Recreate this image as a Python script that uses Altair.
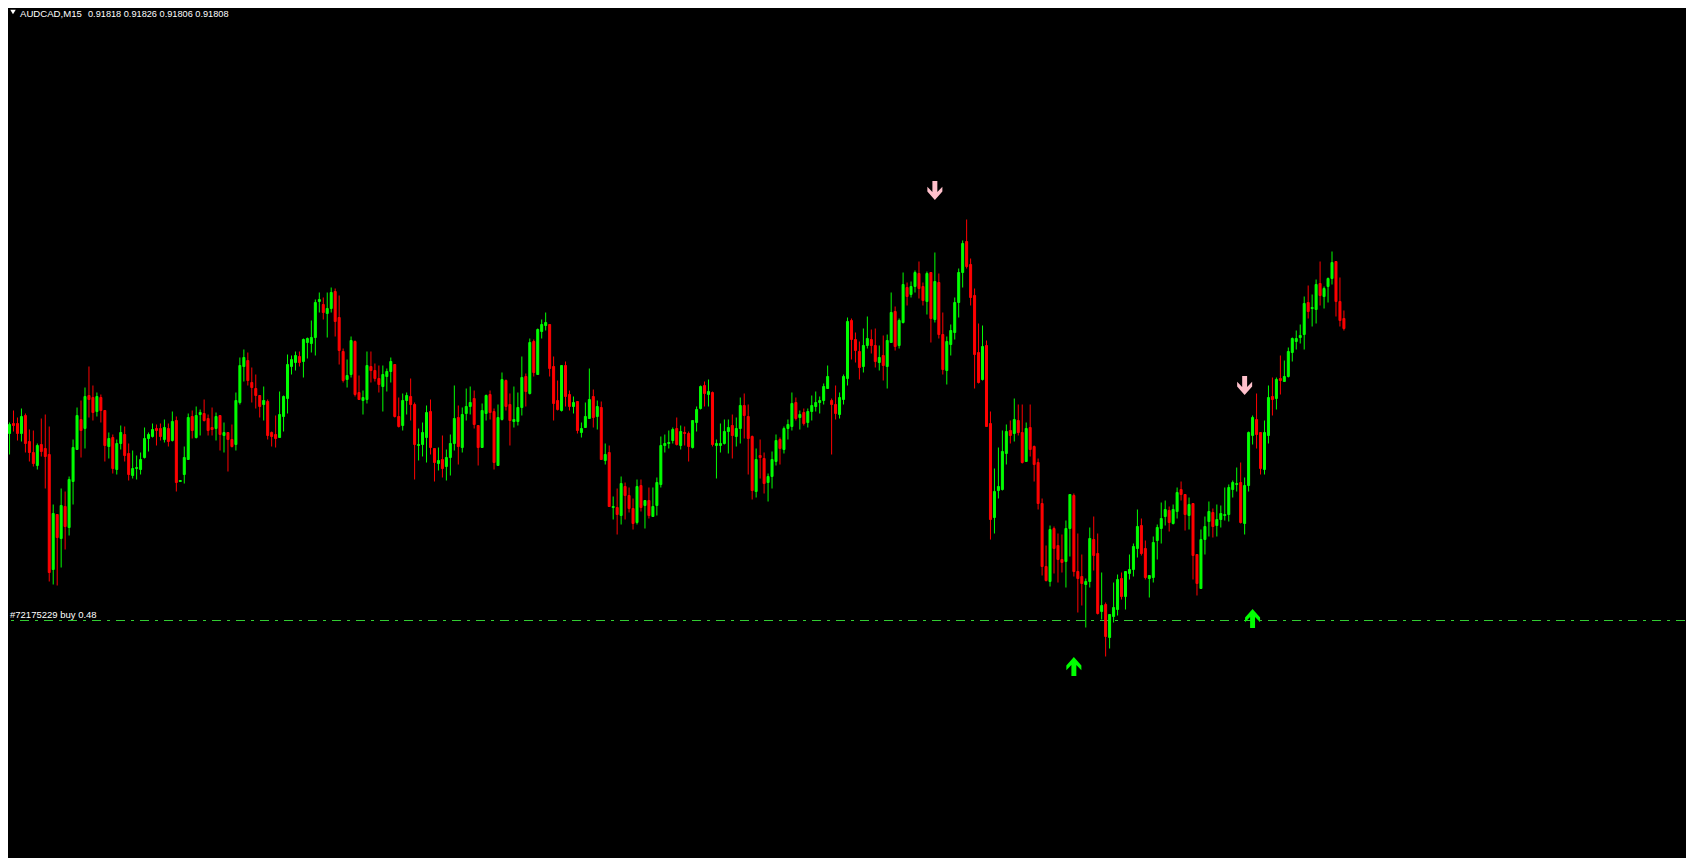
import altair as alt
import numpy as np
import pandas as pd

# ---------------- data (AUDCAD M15, prices) ----------------
OPEN = [
0.91703,0.91713,0.91713,0.91703,0.91721,0.91695,0.91684,0.91671,0.91692,0.91688,
0.91682,0.91567,0.91622,0.91598,0.91630,0.91609,0.91655,0.91687,0.91717,0.91708,
0.91741,0.91739,0.91725,0.91739,0.91726,0.91690,0.91699,0.91667,0.91693,0.91702,
0.91683,0.91661,0.91668,0.91667,0.91679,0.91698,0.91700,0.91708,0.91708,0.91697,
0.91708,0.91696,0.91716,0.91655,0.91662,0.91677,0.91720,0.91699,0.91722,0.91723,
0.91718,0.91709,0.91708,0.91721,0.91701,0.91704,0.91697,0.91692,0.91734,0.91770,
0.91776,0.91754,0.91748,0.91741,0.91732,0.91735,0.91704,0.91702,0.91699,0.91720,
0.91738,0.91770,0.91774,0.91780,0.91775,0.91794,0.91793,0.91799,0.91835,0.91832,
0.91823,0.91828,0.91845,0.91819,0.91785,0.91757,0.91762,0.91795,0.91744,0.91736,
0.91737,0.91770,0.91766,0.91758,0.91750,0.91760,0.91765,0.91772,0.91720,0.91711,
0.91736,0.91740,0.91732,0.91691,0.91692,0.91699,0.91725,0.91688,0.91673,0.91677,
0.91670,0.91679,0.91693,0.91719,0.91689,0.91723,0.91730,0.91738,0.91711,0.91689,
0.91723,0.91742,0.91725,0.91671,0.91717,0.91756,0.91732,0.91715,0.91715,0.91729,
0.91760,0.91743,0.91795,0.91762,0.91805,0.91811,0.91812,0.91770,0.91736,0.91726,
0.91771,0.91742,0.91730,0.91735,0.91704,0.91709,0.91718,0.91740,0.91720,0.91729,
0.91676,0.91684,0.91629,0.91629,0.91621,0.91650,0.91641,0.91628,0.91614,0.91651,
0.91631,0.91636,0.91620,0.91631,0.91652,0.91691,0.91693,0.91696,0.91708,0.91691,
0.91704,0.91703,0.91689,0.91714,0.91728,0.91751,0.91742,0.91744,0.91691,0.91691,
0.91693,0.91705,0.91711,0.91700,0.91708,0.91731,0.91720,0.91700,0.91645,0.91681,
0.91678,0.91654,0.91660,0.91675,0.91697,0.91687,0.91708,0.91710,0.91734,0.91719,
0.91724,0.91714,0.91725,0.91730,0.91734,0.91736,0.91748,0.91736,0.91732,0.91722,
0.91737,0.91758,0.91816,0.91797,0.91785,0.91770,0.91791,0.91797,0.91791,0.91774,
0.91781,0.91770,0.91794,0.91825,0.91791,0.91814,0.91849,0.91842,0.91850,0.91863,
0.91850,0.91835,0.91864,0.91817,0.91854,0.91802,0.91766,0.91792,0.91804,0.91834,
0.91864,0.91895,0.91872,0.91841,0.91784,0.91757,0.91791,0.91713,0.91619,0.91646,
0.91647,0.91683,0.91706,0.91703,0.91716,0.91704,0.91675,0.91709,0.91690,0.91674,
0.91633,0.91570,0.91555,0.91608,0.91591,0.91577,0.91575,0.91608,0.91641,0.91565,
0.91560,0.91552,0.91555,0.91597,0.91583,0.91525,0.91532,0.91499,0.91520,0.91527,
0.91558,0.91540,0.91563,0.91567,0.91588,0.91611,0.91588,0.91558,0.91559,0.91596,
0.91608,0.91620,0.91626,0.91613,0.91625,0.91647,0.91642,0.91621,0.91633,0.91582,
0.91548,0.91597,0.91615,0.91624,0.91611,0.91617,0.91621,0.91622,0.91647,0.91652,
0.91654,0.91613,0.91651,0.91701,0.91717,0.91704,0.91667,0.91701,0.91740,0.91738,
0.91758,0.91755,0.91760,0.91784,0.91795,0.91799,0.91802,0.91834,0.91828,0.91827,
0.91853,0.91840,0.91850,0.91858,0.91875,0.91835,0.91818]

HIGH = [
0.91714,0.91726,0.91719,0.91728,0.91723,0.91707,0.91706,0.91693,0.91718,0.91722,
0.91710,0.91632,0.91622,0.91648,0.91645,0.91660,0.91697,0.91729,0.91736,0.91749,
0.91770,0.91751,0.91744,0.91742,0.91726,0.91704,0.91702,0.91697,0.91711,0.91710,
0.91693,0.91686,0.91681,0.91684,0.91709,0.91704,0.91713,0.91712,0.91713,0.91717,
0.91713,0.91725,0.91720,0.91656,0.91690,0.91723,0.91726,0.91730,0.91727,0.91737,
0.91722,0.91729,0.91724,0.91721,0.91714,0.91704,0.91712,0.91744,0.91779,0.91787,
0.91784,0.91769,0.91762,0.91741,0.91750,0.91737,0.91705,0.91721,0.91745,0.91741,
0.91782,0.91781,0.91785,0.91785,0.91798,0.91799,0.91816,0.91837,0.91844,0.91839,
0.91844,0.91849,0.91848,0.91841,0.91788,0.91777,0.91800,0.91796,0.91761,0.91746,
0.91785,0.91785,0.91773,0.91771,0.91771,0.91768,0.91779,0.91772,0.91739,0.91743,
0.91744,0.91758,0.91734,0.91708,0.91714,0.91731,0.91737,0.91688,0.91689,0.91701,
0.91687,0.91702,0.91751,0.91731,0.91729,0.91748,0.91750,0.91746,0.91711,0.91733,
0.91742,0.91746,0.91728,0.91732,0.91764,0.91757,0.91743,0.91750,0.91744,0.91780,
0.91763,0.91798,0.91797,0.91808,0.91817,0.91824,0.91812,0.91780,0.91756,0.91771,
0.91775,0.91746,0.91740,0.91735,0.91714,0.91734,0.91768,0.91747,0.91736,0.91735,
0.91693,0.91691,0.91640,0.91648,0.91660,0.91654,0.91649,0.91638,0.91657,0.91657,
0.91636,0.91649,0.91649,0.91659,0.91700,0.91702,0.91706,0.91709,0.91719,0.91711,
0.91710,0.91705,0.91716,0.91730,0.91751,0.91755,0.91757,0.91745,0.91697,0.91713,
0.91717,0.91717,0.91722,0.91719,0.91739,0.91743,0.91732,0.91701,0.91688,0.91697,
0.91684,0.91663,0.91685,0.91702,0.91699,0.91710,0.91717,0.91744,0.91739,0.91726,
0.91728,0.91728,0.91741,0.91745,0.91740,0.91753,0.91771,0.91738,0.91751,0.91744,
0.91762,0.91819,0.91818,0.91804,0.91795,0.91808,0.91820,0.91807,0.91808,0.91791,
0.91801,0.91802,0.91844,0.91830,0.91818,0.91864,0.91854,0.91855,0.91866,0.91875,
0.91854,0.91865,0.91864,0.91884,0.91863,0.91824,0.91800,0.91812,0.91839,0.91868,
0.91896,0.91917,0.91878,0.91848,0.91813,0.91811,0.91796,0.91725,0.91668,0.91689,
0.91706,0.91712,0.91716,0.91738,0.91732,0.91732,0.91714,0.91732,0.91691,0.91678,
0.91638,0.91591,0.91611,0.91610,0.91603,0.91602,0.91616,0.91642,0.91643,0.91603,
0.91582,0.91558,0.91609,0.91620,0.91603,0.91564,0.91534,0.91522,0.91554,0.91562,
0.91564,0.91565,0.91582,0.91593,0.91627,0.91618,0.91596,0.91561,0.91600,0.91612,
0.91634,0.91636,0.91630,0.91632,0.91649,0.91655,0.91642,0.91639,0.91633,0.91582,
0.91607,0.91620,0.91635,0.91628,0.91632,0.91631,0.91649,0.91652,0.91656,0.91669,
0.91674,0.91659,0.91705,0.91721,0.91743,0.91704,0.91716,0.91751,0.91759,0.91759,
0.91781,0.91776,0.91789,0.91799,0.91806,0.91812,0.91840,0.91851,0.91842,0.91857,
0.91875,0.91850,0.91859,0.91885,0.91875,0.91859,0.91826]

LOW = [
0.91682,0.91705,0.91696,0.91695,0.91684,0.91675,0.91670,0.91667,0.91680,0.91648,
0.91555,0.91552,0.91551,0.91569,0.91587,0.91601,0.91632,0.91687,0.91679,0.91688,
0.91719,0.91716,0.91720,0.91714,0.91675,0.91678,0.91663,0.91662,0.91687,0.91675,
0.91656,0.91658,0.91657,0.91662,0.91678,0.91685,0.91699,0.91691,0.91696,0.91694,
0.91690,0.91695,0.91645,0.91655,0.91653,0.91677,0.91698,0.91698,0.91701,0.91715,
0.91701,0.91701,0.91696,0.91686,0.91684,0.91665,0.91689,0.91686,0.91732,0.91755,
0.91751,0.91734,0.91728,0.91719,0.91716,0.91697,0.91690,0.91689,0.91699,0.91705,
0.91723,0.91762,0.91766,0.91770,0.91759,0.91778,0.91784,0.91781,0.91824,0.91817,
0.91799,0.91824,0.91800,0.91772,0.91754,0.91749,0.91759,0.91740,0.91737,0.91722,
0.91733,0.91754,0.91755,0.91744,0.91725,0.91745,0.91754,0.91719,0.91709,0.91706,
0.91722,0.91716,0.91657,0.91676,0.91680,0.91674,0.91682,0.91655,0.91666,0.91659,
0.91656,0.91661,0.91686,0.91672,0.91684,0.91716,0.91722,0.91708,0.91671,0.91689,
0.91716,0.91717,0.91667,0.91671,0.91716,0.91726,0.91691,0.91709,0.91711,0.91721,
0.91730,0.91742,0.91760,0.91762,0.91798,0.91806,0.91760,0.91716,0.91726,0.91725,
0.91730,0.91726,0.91723,0.91703,0.91699,0.91709,0.91718,0.91709,0.91707,0.91677,
0.91672,0.91630,0.91617,0.91602,0.91612,0.91617,0.91624,0.91607,0.91612,0.91625,
0.91608,0.91618,0.91620,0.91621,0.91649,0.91684,0.91688,0.91693,0.91691,0.91687,
0.91691,0.91675,0.91688,0.91705,0.91727,0.91730,0.91730,0.91690,0.91658,0.91684,
0.91692,0.91683,0.91678,0.91690,0.91693,0.91698,0.91662,0.91637,0.91639,0.91658,
0.91643,0.91635,0.91648,0.91671,0.91672,0.91683,0.91697,0.91706,0.91716,0.91707,
0.91711,0.91709,0.91716,0.91725,0.91723,0.91732,0.91748,0.91682,0.91717,0.91718,
0.91732,0.91751,0.91777,0.91774,0.91757,0.91764,0.91788,0.91783,0.91769,0.91766,
0.91756,0.91748,0.91794,0.91786,0.91788,0.91813,0.91831,0.91839,0.91844,0.91838,
0.91831,0.91822,0.91794,0.91814,0.91798,0.91762,0.91752,0.91781,0.91797,0.91819,
0.91849,0.91868,0.91831,0.91748,0.91753,0.91756,0.91710,0.91597,0.91603,0.91638,
0.91646,0.91672,0.91693,0.91695,0.91701,0.91673,0.91675,0.91680,0.91655,0.91627,
0.91561,0.91555,0.91550,0.91563,0.91554,0.91564,0.91549,0.91580,0.91560,0.91524,
0.91531,0.91509,0.91549,0.91566,0.91522,0.91517,0.91480,0.91488,0.91514,0.91521,
0.91537,0.91527,0.91557,0.91560,0.91579,0.91581,0.91557,0.91539,0.91554,0.91577,
0.91593,0.91611,0.91605,0.91612,0.91618,0.91636,0.91606,0.91607,0.91557,0.91541,
0.91548,0.91582,0.91600,0.91599,0.91600,0.91609,0.91616,0.91615,0.91639,0.91645,
0.91613,0.91602,0.91645,0.91692,0.91688,0.91662,0.91662,0.91693,0.91721,0.91727,
0.91742,0.91755,0.91759,0.91775,0.91787,0.91793,0.91787,0.91818,0.91810,0.91813,
0.91831,0.91828,0.91834,0.91852,0.91820,0.91810,0.91806]

CLOSE = [
0.91712,0.91711,0.91703,0.91720,0.91693,0.91684,0.91673,0.91691,0.91685,0.91680,
0.91564,0.91623,0.91599,0.91631,0.91610,0.91657,0.91689,0.91721,0.91706,0.91740,
0.91737,0.91724,0.91740,0.91726,0.91691,0.91698,0.91668,0.91693,0.91704,0.91681,
0.91662,0.91668,0.91669,0.91677,0.91698,0.91702,0.91707,0.91706,0.91700,0.91709,
0.91695,0.91715,0.91654,0.91656,0.91679,0.91719,0.91706,0.91721,0.91724,0.91716,
0.91706,0.91707,0.91720,0.91702,0.91704,0.91697,0.91690,0.91736,0.91771,0.91779,
0.91756,0.91749,0.91741,0.91730,0.91736,0.91701,0.91700,0.91698,0.91722,0.91740,
0.91772,0.91777,0.91781,0.91774,0.91797,0.91798,0.91799,0.91834,0.91837,0.91824,
0.91828,0.91844,0.91815,0.91786,0.91756,0.91761,0.91796,0.91742,0.91737,0.91739,
0.91771,0.91766,0.91758,0.91752,0.91762,0.91765,0.91775,0.91720,0.91710,0.91736,
0.91741,0.91732,0.91692,0.91692,0.91704,0.91724,0.91689,0.91674,0.91676,0.91668,
0.91679,0.91693,0.91718,0.91690,0.91722,0.91730,0.91734,0.91712,0.91689,0.91726,
0.91741,0.91724,0.91674,0.91719,0.91757,0.91730,0.91716,0.91717,0.91729,0.91759,
0.91745,0.91794,0.91764,0.91807,0.91812,0.91814,0.91768,0.91733,0.91727,0.91771,
0.91740,0.91730,0.91734,0.91706,0.91708,0.91720,0.91737,0.91719,0.91730,0.91677,
0.91682,0.91630,0.91630,0.91622,0.91653,0.91641,0.91628,0.91613,0.91650,0.91629,
0.91636,0.91621,0.91630,0.91654,0.91691,0.91693,0.91694,0.91707,0.91692,0.91705,
0.91703,0.91690,0.91716,0.91727,0.91750,0.91743,0.91745,0.91692,0.91693,0.91693,
0.91705,0.91709,0.91701,0.91708,0.91731,0.91721,0.91698,0.91646,0.91677,0.91679,
0.91653,0.91660,0.91677,0.91696,0.91688,0.91708,0.91712,0.91733,0.91718,0.91722,
0.91713,0.91725,0.91731,0.91734,0.91736,0.91750,0.91760,0.91732,0.91723,0.91739,
0.91760,0.91815,0.91797,0.91786,0.91769,0.91791,0.91798,0.91791,0.91775,0.91779,
0.91771,0.91796,0.91824,0.91790,0.91816,0.91852,0.91840,0.91850,0.91864,0.91848,
0.91836,0.91863,0.91818,0.91855,0.91802,0.91767,0.91795,0.91806,0.91834,0.91864,
0.91893,0.91870,0.91839,0.91782,0.91754,0.91790,0.91710,0.91617,0.91645,0.91650,
0.91685,0.91705,0.91701,0.91717,0.91704,0.91674,0.91708,0.91687,0.91672,0.91633,
0.91570,0.91556,0.91607,0.91588,0.91577,0.91574,0.91608,0.91642,0.91565,0.91558,
0.91553,0.91555,0.91598,0.91581,0.91523,0.91531,0.91500,0.91522,0.91529,0.91557,
0.91540,0.91565,0.91567,0.91590,0.91610,0.91583,0.91559,0.91561,0.91594,0.91609,
0.91618,0.91627,0.91614,0.91627,0.91644,0.91642,0.91622,0.91632,0.91581,0.91553,
0.91597,0.91610,0.91625,0.91610,0.91617,0.91623,0.91622,0.91649,0.91654,0.91653,
0.91614,0.91651,0.91704,0.91719,0.91702,0.91668,0.91704,0.91739,0.91737,0.91757,
0.91756,0.91760,0.91785,0.91798,0.91798,0.91801,0.91833,0.91825,0.91829,0.91852,
0.91841,0.91848,0.91858,0.91874,0.91835,0.91816,0.91808]

SELL_BARS = [234, 312]
SELL_PRICES = [0.91946, 0.91751]
BUY_BARS = [269, 314]
BUY_PRICES = [0.91470, 0.91518]

ORDER_PRICE = 0.91516
ORDER_LABEL = "#72175229 buy 0.48"
SYMBOL_LABEL = "AUDCAD,M15"
OHLC_LABEL = "0.91818 0.91826 0.91806 0.91808"

# ---------------- styling ----------------
W, H = 1678, 850
BULL = "#00FF00"
BEAR = "#FF0000"
PINK = "#FFC0CB"
LINE_GREEN = "#32CD32"
DOWN_ARROW = "M-0.26,-1 L0.26,-1 L0.26,0.15 L0.79,-0.4 L0.79,0.1 L0,1 L-0.79,0.1 L-0.79,-0.4 L-0.26,0.15 Z"
UP_ARROW = "M-0.26,1 L0.26,1 L0.26,-0.15 L0.79,0.4 L0.79,-0.1 L0,-1 L-0.79,-0.1 L-0.79,0.4 L-0.26,-0.15 Z"

df = pd.DataFrame({
    "bar": np.arange(1, len(OPEN) + 1),
    "open": OPEN, "high": HIGH, "low": LOW, "close": CLOSE,
})
df["dir"] = np.where(df["close"] >= df["open"], "up", "down")

xs = alt.Scale(domain=[2.125, 421.625], nice=False, zero=False)
ys = alt.Scale(domain=[0.912785, 0.921285], nice=False, zero=False)
cs = alt.Scale(domain=["up", "down"], range=[BULL, BEAR])

X = alt.X("bar:Q", scale=xs, axis=None)

wicks = alt.Chart(df).mark_rule(strokeWidth=1).encode(
    x=X,
    y=alt.Y("low:Q", scale=ys, axis=None),
    y2="high:Q",
    color=alt.Color("dir:N", scale=cs, legend=None),
)

bodies = alt.Chart(df).mark_bar(width=2, strokeWidth=1).encode(
    x=X,
    y=alt.Y("open:Q", scale=ys, axis=None),
    y2="close:Q",
    fill=alt.Fill("dir:N", scale=cs, legend=None),
    stroke=alt.Stroke("dir:N", scale=cs, legend=None),
)

order_df = pd.DataFrame({"price": [ORDER_PRICE], "label": [ORDER_LABEL]})
order_line = alt.Chart(order_df).mark_rule(
    color=LINE_GREEN, strokeWidth=1, strokeDash=[9, 6, 3, 6]
).encode(y=alt.Y("price:Q", scale=ys, axis=None))

order_text = alt.Chart(order_df).mark_text(
    align="left", baseline="alphabetic", dy=-2.5, font="Liberation Sans",
    fontSize=9.5, color="#FFFFFF",
).encode(x=alt.value(1), y=alt.Y("price:Q", scale=ys, axis=None), text="label:N")

sell_df = pd.DataFrame({"bar": SELL_BARS, "price": SELL_PRICES})
buy_df = pd.DataFrame({"bar": BUY_BARS, "price": BUY_PRICES})

sell_arrows = alt.Chart(sell_df).mark_point(
    shape=DOWN_ARROW, size=361, filled=True, color=PINK, opacity=1, strokeWidth=0
).encode(x=X, y=alt.Y("price:Q", scale=ys, axis=None))

buy_arrows = alt.Chart(buy_df).mark_point(
    shape=UP_ARROW, size=361, filled=True, color=BULL, opacity=1, strokeWidth=0
).encode(x=X, y=alt.Y("price:Q", scale=ys, axis=None))

hdr_df = pd.DataFrame({"sym": [SYMBOL_LABEL], "ohlc": [OHLC_LABEL]})
tri = alt.Chart(hdr_df).mark_point(
    shape="triangle-down", size=30, filled=True, color="#FFFFFF", opacity=1, strokeWidth=0
).encode(x=alt.value(4), y=alt.value(4))
sym_text = alt.Chart(hdr_df).mark_text(
    align="left", baseline="alphabetic", font="Liberation Sans", fontSize=9.6, color="#FFFFFF"
).encode(x=alt.value(11), y=alt.value(8.5), text="sym:N")
ohlc_text = alt.Chart(hdr_df).mark_text(
    align="left", baseline="alphabetic", font="Liberation Sans", fontSize=9.2, color="#FFFFFF"
).encode(x=alt.value(79), y=alt.value(8.5), text="ohlc:N")

chart = alt.layer(
    order_line, wicks, bodies, sell_arrows, buy_arrows, order_text, tri, sym_text, ohlc_text
).properties(
    width=W, height=H, padding=0, background="#000000",
    autosize=alt.AutoSizeParams(type="fit", contains="padding"),
).configure_view(strokeWidth=0)

chart.save("out.html", embed_options={"renderer": "svg", "actions": False})
